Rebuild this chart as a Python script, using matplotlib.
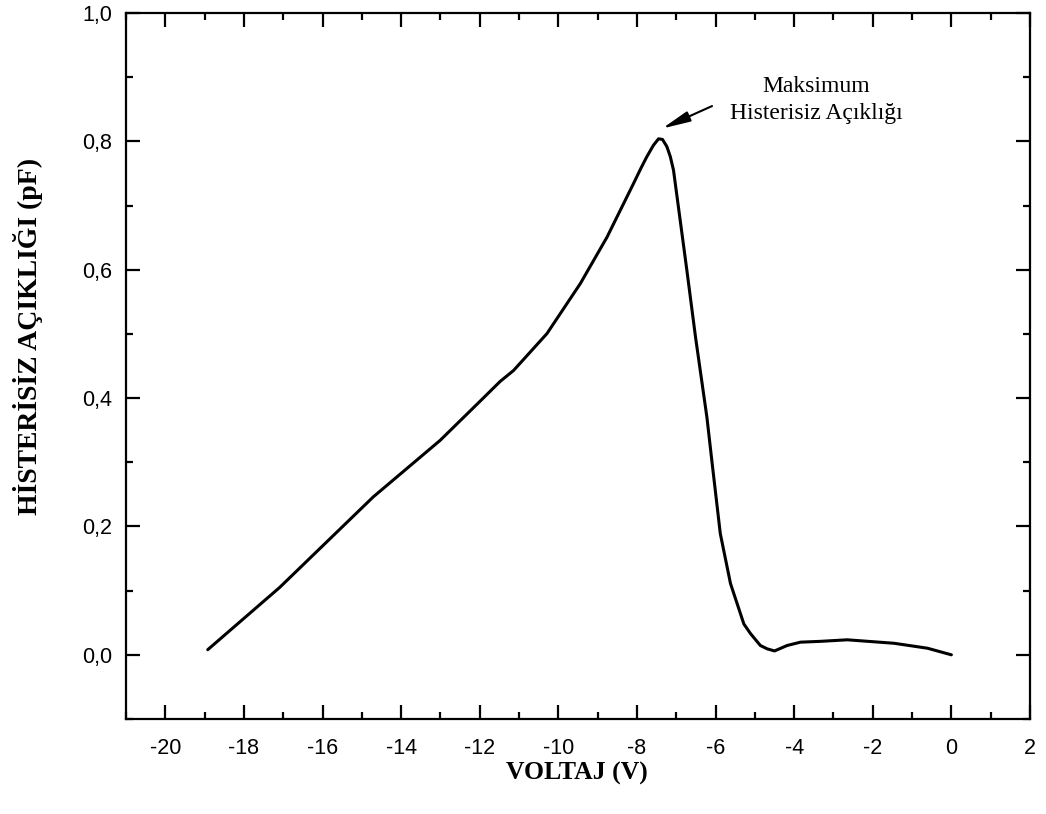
import matplotlib
matplotlib.use("Agg")
import matplotlib.pyplot as plt
from matplotlib.ticker import MultipleLocator, FuncFormatter

# Hysteresis width vs. gate voltage
voltage = [-18.92, -17.09, -14.71, -13.01, -12.01, -11.48, -11.14,
           -10.29, -9.44, -8.76, -8.09, -7.90, -7.75, -7.58, -7.45, -7.35,
           -7.24, -7.15, -7.07, -6.90, -6.73, -6.51, -6.22, -6.09, -5.88,
           -5.62, -5.28, -5.11, -4.86, -4.69, -4.50, -4.18, -3.84, -3.33,
           -2.65, -1.46, -0.61, 0.0]
gap_pf = [0.008, 0.105, 0.246, 0.334, 0.394, 0.426, 0.443,
          0.5005, 0.5785, 0.651, 0.734, 0.758, 0.776, 0.794, 0.804, 0.803,
          0.792, 0.776, 0.755, 0.677, 0.599, 0.495, 0.370, 0.300, 0.189,
          0.111, 0.048, 0.033, 0.0145, 0.0094, 0.006, 0.0145, 0.0197, 0.021,
          0.0234, 0.018, 0.0103, 0.0]

x_label = "VOLTAJ (V)"
y_label = "HİSTERİSİZ AÇIKLIĞI (pF)"
note_text = "Maksimum\nHisterisiz Açıklığı"
arrow_tip = (-7.36, 0.820)
arrow_tail = (-6.09, 0.855)
note_pos = (-3.43, 0.864)

fig = plt.figure(figsize=(10.46, 8.14), dpi=100)
ax = fig.add_axes([126 / 1046, 1 - 719 / 814, 904 / 1046, 706 / 814])

ax.plot(voltage, gap_pf, color="black", linewidth=2.2,
        solid_joinstyle="round", solid_capstyle="round")

ax.set_xlim(-21, 2)
ax.set_ylim(-0.1, 1.0)
ax.xaxis.set_major_locator(MultipleLocator(2))
ax.xaxis.set_minor_locator(MultipleLocator(1))
ax.yaxis.set_major_locator(MultipleLocator(0.2))
ax.yaxis.set_minor_locator(MultipleLocator(0.1))
ax.yaxis.set_major_formatter(FuncFormatter(lambda v, p: f"{v:.1f}".replace(".", ",")))
ax.xaxis.set_major_formatter(FuncFormatter(lambda v, p: f"{v:.0f}"))

for s in ax.spines.values():
    s.set_linewidth(1.6)

ax.tick_params(which="both", direction="in", top=True, right=True, width=1.6)
ax.tick_params(which="major", length=10)
ax.tick_params(which="minor", length=5)
ax.tick_params(axis="x", which="major", pad=14)
ax.tick_params(axis="y", which="major", pad=10)
for lab in ax.get_xticklabels() + ax.get_yticklabels():
    lab.set_fontfamily("Liberation Sans")
    lab.set_fontsize(15.5)

fig.text(577 / 1046, 1 - 773 / 814, x_label, ha="center", va="center",
         fontfamily="Liberation Serif", fontweight="bold", fontsize=18.5)
fig.text(28 / 1046, 1 - 336 / 814, y_label, ha="center", va="center",
         rotation=90, fontfamily="Liberation Serif", fontweight="bold", fontsize=20)

ax.text(*note_pos, note_text, ha="center", va="center",
        fontfamily="Liberation Serif", fontsize=17, linespacing=1.4)
ax.annotate("", xy=arrow_tip, xytext=arrow_tail,
            arrowprops=dict(arrowstyle="-|>,head_length=1.7,head_width=0.32",
                            color="black", lw=1.5, shrinkA=0, shrinkB=0))

fig.savefig("out.png", dpi=100, facecolor="white")
